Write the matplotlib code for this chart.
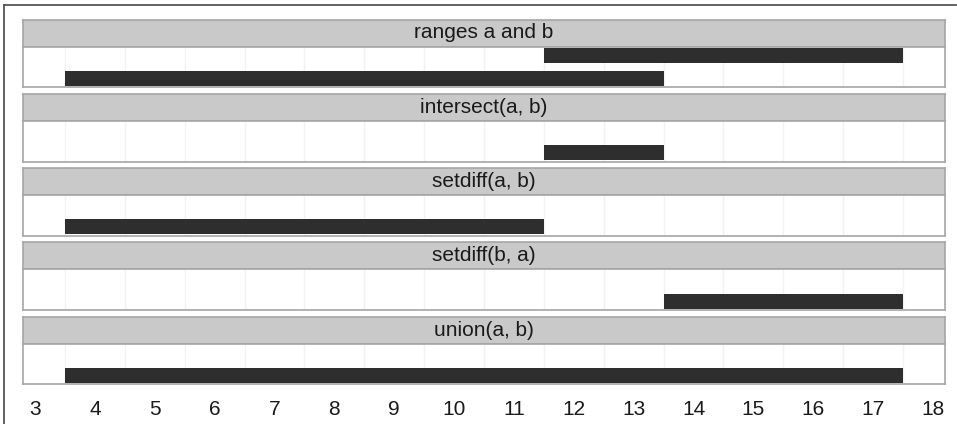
import matplotlib
matplotlib.use("Agg")
import matplotlib.pyplot as plt
from matplotlib.lines import Line2D

plt.rcParams['font.family'] = ['Liberation Sans', 'DejaVu Sans']

panel_titles = ["ranges a and b", "intersect(a, b)", "setdiff(a, b)", "setdiff(b, a)", "union(a, b)"]
# each panel: list of (row, start, end); row 1 = lower, 2 = upper
panel_bars = [
    [(1, 3.5, 13.5), (2, 11.5, 17.5)],
    [(1, 11.5, 13.5)],
    [(1, 3.5, 11.5)],
    [(1, 13.5, 17.5)],
    [(1, 3.5, 17.5)],
]
x_ticks = list(range(3, 19))
grid_x = [v + 0.5 for v in range(3, 18)]

W, H = 957, 424
fig = plt.figure(figsize=(W / 100, H / 100), dpi=100)

left_px, right_px = 23, 945
strip_h, panel_h, period = 27, 40.8, 74.25
first_top = 19.5

def fx(px):
    return px / W

def fy(py):
    return 1 - py / H

strip_col = "#c9c9c9"
border_col = "#a6a6a6"
bar_col = "#2e2e2e"

for i, (title, bars) in enumerate(zip(panel_titles, panel_bars)):
    top = first_top + i * period
    # strip
    sax = fig.add_axes([fx(left_px), fy(top + strip_h), fx(right_px - left_px), strip_h / H])
    sax.set_facecolor(strip_col)
    sax.set_xticks([]); sax.set_yticks([])
    for s in sax.spines.values():
        s.set_color(border_col); s.set_linewidth(1.2)
    sax.text(0.5, 0.5, title, ha="center", va="center", fontsize=15, color="#1a1a1a",
             transform=sax.transAxes)
    # panel
    pt = top + strip_h
    ax = fig.add_axes([fx(left_px), fy(pt + panel_h), fx(right_px - left_px), panel_h / H])
    ax.set_xlim(2.8, 18.2)
    ax.set_ylim(0.605, 2.395)
    for g in grid_x:
        ax.axvline(g, color="#f2f2f2", linewidth=1.0, zorder=0)
    for row, s0, s1 in bars:
        ax.barh(row, s1 - s0, left=s0, height=0.66, color=bar_col, zorder=2)
    ax.set_yticks([])
    for s in ax.spines.values():
        s.set_color(border_col); s.set_linewidth(1.2)
    if i == len(panel_titles) - 1:
        ax.set_xticks(x_ticks)
        ax.set_xticklabels([str(t) for t in x_ticks], fontsize=15, color="#1a1a1a")
        ax.tick_params(axis="x", length=0, pad=11)
    else:
        ax.set_xticks([])

fig.add_artist(Line2D([fx(4), fx(4)], [0, fy(5)], color="#555555", linewidth=1.3))
fig.add_artist(Line2D([fx(4), fx(956)], [fy(5), fy(5)], color="#555555", linewidth=1.3))

fig.savefig("out.png", dpi=100)
